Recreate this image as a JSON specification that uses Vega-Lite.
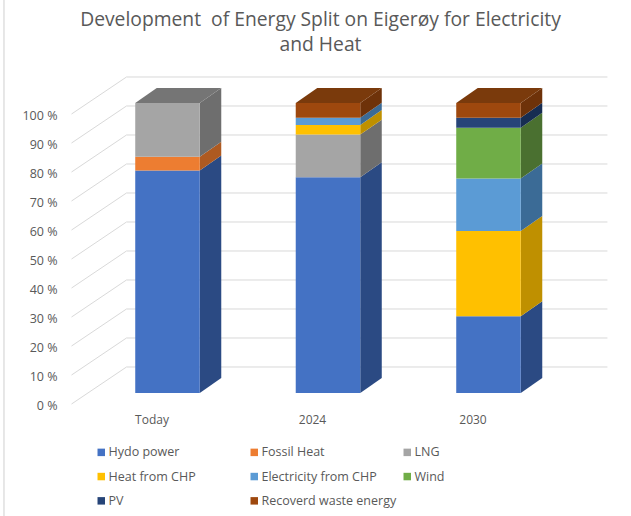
{
"$schema":"https://vega.github.io/schema/vega-lite/v6.json",
"width":631,"height":516,"padding":0,"autosize":{"type":"none"},"background":"#ffffff",
"title":{"text":["Development\u00a0 of Energy Split on Eigerøy for Electricity","and Heat"],"anchor":"middle","frame":"group","dx":5,"offset":-56,"font":"Open Sans","fontSize":19.3,"fontWeight":"normal","color":"#595959","lineHeight":25},
"datasets":{
"energy":[
{"category":"Today","source":"Hydo power","value":76.7},
{"category":"Today","source":"Fossil Heat","value":4.8},
{"category":"Today","source":"LNG","value":18.5},
{"category":"2024","source":"Hydo power","value":74.4},
{"category":"2024","source":"LNG","value":14.7},
{"category":"2024","source":"Heat from CHP","value":3.3},
{"category":"2024","source":"Electricity from CHP","value":2.5},
{"category":"2024","source":"Recoverd waste energy","value":5.1},
{"category":"2030","source":"Hydo power","value":26.5},
{"category":"2030","source":"Heat from CHP","value":29.4},
{"category":"2030","source":"Electricity from CHP","value":18.1},
{"category":"2030","source":"Wind","value":17.5},
{"category":"2030","source":"PV","value":3.4},
{"category":"2030","source":"Recoverd waste energy","value":5.1}
],
"ticks":[{"tick":0},{"tick":10},{"tick":20},{"tick":30},{"tick":40},{"tick":50},{"tick":60},{"tick":70},{"tick":80},{"tick":90},{"tick":100}]
},
"layer":[
{"data":{"name":"ticks"},
"transform":[{"calculate":"-0.598","as":"x1"},{"calculate":"-0.2555","as":"x2"},{"calculate":"datum.tick-3.8","as":"y1"},{"calculate":"datum.tick+8.97","as":"y2"}],
"mark":{"type":"rule","color":"#D9D9D9","strokeWidth":1},
"encoding":{
"x":{"field":"x1","type":"quantitative","scale":{"domain":[-1.0436,2.8879],"nice":false,"zero":false},
"axis":{"title":null,"values":[0,1,2],"labelExpr":"['Today','2024','2030'][datum.value]","offset":-106,"labelOffset":-16,"domain":false,"ticks":false,"grid":false,"labelPadding":4,"labelFont":"Open Sans","labelFontSize":12,"labelColor":"#595959"}},
"x2":{"field":"x2"},
"y":{"field":"y1","type":"quantitative","scale":{"domain":[-42.41,135.52],"nice":false,"zero":false},
"axis":{"title":null,"values":[0,10,20,30,40,50,60,70,80,90,100],"labelExpr":"datum.value + ' %'","offset":-61,"labelOffset":12,"domain":false,"ticks":false,"grid":false,"labelPadding":4,"labelFont":"Open Sans","labelFontSize":12.5,"labelColor":"#595959"}},
"y2":{"field":"y2"}}},
{"data":{"name":"ticks"},
"transform":[{"calculate":"-0.2555","as":"x1"},{"calculate":"2.741","as":"x2"},{"calculate":"datum.tick+8.97","as":"y1"}],
"mark":{"type":"rule","color":"#D9D9D9","strokeWidth":1},
"encoding":{"x":{"field":"x1","type":"quantitative"},"x2":{"field":"x2"},"y":{"field":"y1","type":"quantitative"}}},
{"data":{"name":"energy"},
"transform":[
{"calculate":"indexof(['Hydo power','Fossil Heat','LNG','Heat from CHP','Electricity from CHP','Wind','PV','Recoverd waste energy'],datum.source)","as":"order"},
{"calculate":"indexof(['Today','2024','2030'],datum.category)","as":"pos"},
{"stack":"value","groupby":["category"],"sort":[{"field":"order","order":"ascending"}],"as":["v0","v1"]},
{"calculate":"[0,1]","as":"t"},{"flatten":["t"]},
{"calculate":"datum.pos+0.201+datum.t*0.134","as":"sx"},
{"calculate":"datum.v0+datum.t*5.17","as":"sy0"},
{"calculate":"datum.v1+datum.t*5.17","as":"sy1"}],
"mark":{"type":"area","interpolate":"linear","orient":"vertical"},
"encoding":{
"x":{"field":"sx","type":"quantitative"},
"y":{"field":"sy0","type":"quantitative"},"y2":{"field":"sy1"},
"detail":{"field":"category"},
"color":{"field":"source","type":"nominal","legend":null,"scale":{"domain":["Hydo power","Fossil Heat","LNG","Heat from CHP","Electricity from CHP","Wind","PV","Recoverd waste energy"],"range":["#2B4A83","#AE5A21","#6E6E6E","#BF9000","#3B6B96","#4A7030","#172D52","#6E3209"]}}}},
{"data":{"name":"energy"},
"transform":[
{"calculate":"indexof(['Hydo power','Fossil Heat','LNG','Heat from CHP','Electricity from CHP','Wind','PV','Recoverd waste energy'],datum.source)","as":"order"},
{"calculate":"indexof(['Today','2024','2030'],datum.category)","as":"pos"},
{"stack":"value","groupby":["category"],"sort":[{"field":"order","order":"ascending"}],"as":["v0","v1"]},
{"filter":"datum.v1>=99.9"},
{"calculate":"[0,1,2,3]","as":"t"},{"flatten":["t"]},
{"calculate":"datum.pos+[-0.201,-0.067,0.201,0.335][datum.t]","as":"sx"},
{"calculate":"datum.v1+[0,0,0,5.17][datum.t]","as":"sy0"},
{"calculate":"datum.v1+[0,5.17,5.17,5.17][datum.t]","as":"sy1"}],
"mark":{"type":"area","interpolate":"linear","orient":"vertical"},
"encoding":{
"x":{"field":"sx","type":"quantitative"},
"y":{"field":"sy0","type":"quantitative"},"y2":{"field":"sy1"},
"detail":{"field":"category"},
"color":{"field":"source","type":"nominal","legend":null,"scale":{"domain":["LNG","Recoverd waste energy"],"range":["#757575","#7A3A0C"]}}}},
{"data":{"name":"energy"},
"transform":[
{"calculate":"indexof(['Hydo power','Fossil Heat','LNG','Heat from CHP','Electricity from CHP','Wind','PV','Recoverd waste energy'],datum.source)","as":"order"},
{"calculate":"indexof(['Today','2024','2030'],datum.category)","as":"pos"},
{"stack":"value","groupby":["category"],"sort":[{"field":"order","order":"ascending"}],"as":["v0","v1"]},
{"calculate":"datum.pos-0.201","as":"xl"},{"calculate":"datum.pos+0.201","as":"xr"}],
"mark":{"type":"rect"},
"encoding":{
"x":{"field":"xl","type":"quantitative"},"x2":{"field":"xr"},
"y":{"field":"v0","type":"quantitative"},"y2":{"field":"v1"},
"color":{"field":"source","type":"nominal","scale":{"domain":["Hydo power","Fossil Heat","LNG","Heat from CHP","Electricity from CHP","Wind","PV","Recoverd waste energy"],"range":["#4472C4","#ED7D31","#A5A5A5","#FFC000","#5B9BD5","#70AD47","#264478","#9E480E"]},
"legend":{"orient":"none","legendX":95,"legendY":446,"title":null,"columns":3,"direction":"horizontal","gridAlign":"all","columnPadding":4,"rowPadding":11.3,"symbolType":"square","symbolSize":56,"symbolStrokeWidth":0,"labelFont":"Open Sans","labelFontSize":12.5,"labelColor":"#595959","labelOffset":1}}}},
{"mark":{"type":"rule","color":"#CFCFCF","strokeWidth":1},"data":{"values":[{"edge":-1.0187}]},
"encoding":{"x":{"field":"edge","type":"quantitative"}}}
],
"resolve":{"scale":{"color":"independent"}},
"config":{"view":{"stroke":null}}
}
